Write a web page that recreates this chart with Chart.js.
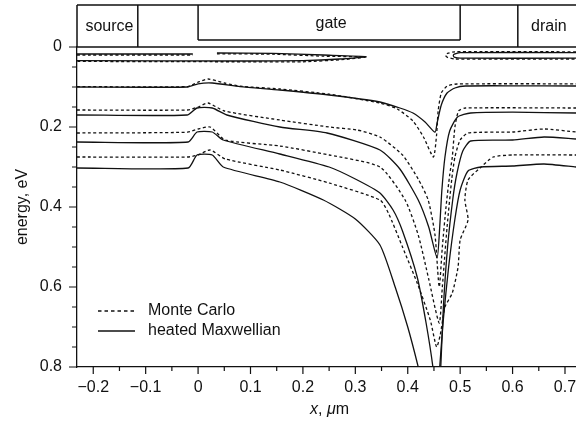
<!DOCTYPE html>
<html>
<head>
<meta charset="utf-8">
<script src="https://cdn.jsdelivr.net/npm/chart.js@4.4.1/dist/chart.umd.min.js"></script>
<style>
  html, body { margin: 0; padding: 0; background: #fff; }
  canvas { display: block; }
</style>
</head>
<body>
<canvas id="chart" width="576" height="421"></canvas>
<script>
// axis ticks
const xTicks = [-0.2, -0.1, 0, 0.1, 0.2, 0.3, 0.4, 0.5, 0.6, 0.7];
const xMinor = [-0.15, -0.05, 0.05, 0.15, 0.25, 0.35, 0.45, 0.55, 0.65];
const yTicks = [0, 0.2, 0.4, 0.6, 0.8];
const yMinor = [0.05, 0.1, 0.15, 0.25, 0.3, 0.35, 0.45, 0.5, 0.55, 0.65, 0.7, 0.75];

// device regions drawn above the plot (x in um, bottom in eV)
const regionNames = ['source', 'gate', 'drain'];
const regionStart = [-0.231, 0, 0.61];
const regionEnd = [-0.115, 0.5, 0.721];
const regionBottom = [0, -0.0175, 0];
const headerTop = -0.105;

// curves, [x um, energy eV]; null = gap
// hm* = heated Maxwellian (solid), mc* = Monte Carlo (dotted)
const hmBandLeft = [[-0.231,0.0175],[-0.01,0.0175],null,[0.036,0.015],[0.143,0.016],[0.239,0.02],[0.32,0.024],
  [0.27,0.03],[0.2,0.034],[0.1,0.035],[-0.231,0.034]];
const mcBandLeft = [[-0.231,0.02],[-0.01,0.02],null,[0.036,0.017],[0.143,0.018],[0.239,0.023],[0.32,0.025],
  [0.28,0.031],[0.2,0.037],[0.1,0.037],[-0.231,0.036]];
const hmBandRight = [[0.721,0.014],[0.5,0.014],[0.489,0.018],[0.487,0.022],[0.49,0.026],[0.5,0.028],[0.721,0.028]];
const mcBandRight = [[0.721,0.012],[0.49,0.012],[0.476,0.016],[0.472,0.021],[0.476,0.026],[0.49,0.03],[0.721,0.03]];

const hmD = [[-0.231,0.1],[-0.02,0.1],[0.0,0.092],[0.027,0.09],[0.08,0.099],[0.156,0.1075],[0.25,0.12],
  [0.347,0.1375],[0.385,0.1525],[0.41,0.165],[0.433,0.1875],[0.452,0.213],[0.456,0.19],[0.464,0.145],
  [0.475,0.115],[0.49,0.1025],[0.51,0.0975],[0.6,0.097],[0.721,0.0975]];
const mcD = [[-0.231,0.099],[-0.02,0.099],[0.0,0.088],[0.019,0.08],[0.05,0.09],[0.08,0.098],[0.156,0.105],
  [0.25,0.118],[0.347,0.14],[0.38,0.155],[0.41,0.185],[0.43,0.225],[0.449,0.275],[0.455,0.22],[0.458,0.16],
  [0.464,0.115],[0.475,0.098],[0.494,0.0925],[0.721,0.092]];

const hmE = [[-0.231,0.17],[-0.021,0.17],[-0.002,0.1525],[0.027,0.1525],[0.055,0.17],[0.156,0.2],[0.246,0.215],
  [0.347,0.2575],[0.385,0.305],[0.42,0.3825],[0.44,0.45],[0.456,0.5275],[0.461,0.45],[0.465,0.36],[0.471,0.275],
  [0.48,0.21],[0.495,0.175],[0.52,0.165],[0.6,0.163],[0.721,0.165]];
const mcE = [[-0.231,0.1575],[-0.02,0.1575],[0.0,0.15],[0.019,0.14],[0.05,0.16],[0.156,0.1825],[0.25,0.2],
  [0.303,0.2075],[0.347,0.225],[0.39,0.27],[0.42,0.33],[0.439,0.3825],[0.452,0.47],[0.46,0.6],[0.466,0.5],
  [0.473,0.4],[0.48,0.32],[0.485,0.275],[0.49,0.2],[0.497,0.16],[0.51,0.1525],[0.721,0.1525]];

const hmF = [[-0.231,0.2375],[-0.019,0.2375],[-0.002,0.2125],[0.027,0.2125],[0.048,0.2325],[0.156,0.2675],
  [0.25,0.3],[0.3,0.33],[0.347,0.365],[0.372,0.4075],[0.39,0.46],[0.418,0.575],[0.435,0.69],[0.448,0.8],
  [0.452,0.86],[0.46,0.86],[0.463,0.8],[0.468,0.65],[0.476,0.5],[0.486,0.38],[0.494,0.315],[0.505,0.26],
  [0.52,0.235],[0.6,0.2325],[0.66,0.225],[0.721,0.23]];
const mcF = [[-0.231,0.215],[-0.02,0.213],[0.0,0.205],[0.023,0.2],[0.052,0.2325],[0.156,0.2475],[0.25,0.27],
  [0.347,0.3],[0.395,0.3825],[0.42,0.47],[0.44,0.58],[0.46,0.69],[0.466,0.6],[0.475,0.45],[0.484,0.33],
  [0.49,0.275],[0.5,0.2325],[0.515,0.215],[0.6,0.2125],[0.66,0.205],[0.721,0.2125]];

const hmG = [[-0.231,0.3025],[-0.019,0.3025],[-0.002,0.27],[0.027,0.27],[0.048,0.3],[0.156,0.3375],
  [0.239,0.3825],[0.3,0.43],[0.347,0.495],[0.376,0.6],[0.4,0.7],[0.42,0.8],[0.43,0.86],[0.458,0.86],
  [0.461,0.8],[0.468,0.68],[0.478,0.55],[0.49,0.43],[0.5,0.3575],[0.515,0.31],[0.54,0.3],[0.6,0.2975],
  [0.66,0.2925],[0.721,0.3]];
const mcG = [[-0.231,0.275],[-0.02,0.275],[0.0,0.27],[0.023,0.2575],[0.052,0.28],[0.156,0.3075],[0.25,0.34],
  [0.347,0.3825],[0.363,0.415],[0.39,0.5],[0.418,0.59],[0.443,0.6825],[0.455,0.75],[0.462,0.72],[0.471,0.65],
  [0.485,0.615],[0.496,0.55],[0.5,0.4825],[0.515,0.4325],[0.509,0.3825],[0.515,0.3325],[0.538,0.3025],
  [0.563,0.275],[0.6,0.27],[0.721,0.27]];

const legendLabels = ['Monte Carlo', 'heated Maxwellian'];

const ink = '#111';
const family = "'Liberation Sans', Arial, Helvetica, sans-serif";
Chart.defaults.font.family = family;
Chart.defaults.font.size = 16;
Chart.defaults.color = ink;

const toPoints = arr => arr.map(p => p ? { x: p[0], y: p[1] } : { x: 0.013, y: null });
const fmt = v => {
  const s = String(Number(Math.abs(v).toFixed(2)));
  return v < 0 ? '\u2212' + s : s;
};

const curves = [
  [hmBandLeft, false], [mcBandLeft, true], [hmBandRight, false], [mcBandRight, true],
  [hmD, false], [mcD, true], [hmE, false], [mcE, true],
  [hmF, false], [mcF, true], [hmG, false], [mcG, true]
];

const extras = {
  id: 'extras',
  afterDraw(chart) {
    const { ctx, chartArea: a, scales: { x, y } } = chart;
    ctx.save();
    ctx.strokeStyle = ink;
    ctx.fillStyle = ink;

    // tick marks, pointing out
    ctx.lineWidth = 1.2;
    ctx.beginPath();
    xTicks.forEach(v => { const p = x.getPixelForValue(v); ctx.moveTo(p, a.bottom); ctx.lineTo(p, a.bottom + 7); });
    xMinor.forEach(v => { const p = x.getPixelForValue(v); ctx.moveTo(p, a.bottom); ctx.lineTo(p, a.bottom + 4); });
    yTicks.forEach(v => { const p = y.getPixelForValue(v); ctx.moveTo(a.left, p); ctx.lineTo(a.left - 8, p); });
    yMinor.forEach(v => { const p = y.getPixelForValue(v); ctx.moveTo(a.left, p); ctx.lineTo(a.left - 5, p); });
    ctx.stroke();

    // device header
    const top = y.getPixelForValue(headerTop);
    const base = y.getPixelForValue(0);
    ctx.lineWidth = 1.5;
    ctx.beginPath();
    ctx.moveTo(a.left, top); ctx.lineTo(a.right, top);
    ctx.moveTo(a.left, base); ctx.lineTo(a.right, base);
    ctx.font = '16px ' + family;
    ctx.textAlign = 'center';
    ctx.textBaseline = 'middle';
    regionNames.forEach((name, i) => {
      const l = x.getPixelForValue(regionStart[i]);
      const r = x.getPixelForValue(regionEnd[i]);
      const b = y.getPixelForValue(regionBottom[i]);
      ctx.moveTo(l, top); ctx.lineTo(l, b);
      if (regionEnd[i] < x.max) { ctx.moveTo(r, top); ctx.lineTo(r, b); }
      ctx.moveTo(l, b); ctx.lineTo(r, b);
      ctx.fillText(name, (l + r) / 2 + 2, (top + b) / 2 + 1);
    });
    ctx.stroke();

    // legend
    const lx = a.left + 21, ly = a.top + 264;
    ctx.lineWidth = 1.3;
    legendLabels.forEach((label, i) => {
      const yy = ly + i * 20;
      ctx.setLineDash(i === 0 ? [3.5, 3] : []);
      ctx.beginPath();
      ctx.moveTo(lx, yy); ctx.lineTo(lx + 37, yy);
      ctx.stroke();
      ctx.textAlign = 'left';
      ctx.fillText(label, lx + 50, yy);
    });
    ctx.setLineDash([]);

    // axis titles
    ctx.save();
    ctx.translate(23, (a.top + a.bottom) / 2);
    ctx.rotate(-Math.PI / 2);
    ctx.textAlign = 'center';
    ctx.fillText('energy, eV', 0, 0);
    ctx.restore();

    const parts = [['x', true], [', ', false], ['\u03bc', true], ['m', false]];
    const fontOf = it => (it ? 'italic ' : '') + '16px ' + family;
    let w = 0;
    parts.forEach(([t, it]) => { ctx.font = fontOf(it); w += ctx.measureText(t).width; });
    let px = (a.left + a.right) / 2 + 3 - w / 2;
    ctx.textAlign = 'left';
    parts.forEach(([t, it]) => {
      ctx.font = fontOf(it);
      ctx.fillText(t, px, 410);
      px += ctx.measureText(t).width;
    });
    ctx.restore();
  }
};

new Chart(document.getElementById('chart'), {
  type: 'scatter',
  data: {
    datasets: curves.map(([pts, mc]) => ({
      data: toPoints(pts),
      showLine: true,
      borderColor: ink,
      borderWidth: 1.3,
      borderDash: mc ? [3, 2.5] : [],
      pointRadius: 0,
      tension: 0.2,
      fill: false
    }))
  },
  options: {
    responsive: false,
    animation: false,
    devicePixelRatio: 1,
    layout: { padding: { top: 47, right: 0, left: 0, bottom: 0 } },
    plugins: { legend: { display: false }, tooltip: { enabled: false } },
    scales: {
      x: {
        type: 'linear', min: -0.231, max: 0.721,
        grid: { display: false, drawTicks: false },
        border: { display: true, color: ink, width: 1.3 },
        afterBuildTicks: s => { s.ticks = xTicks.map(v => ({ value: v })); },
        afterFit: s => { s.height = 54; s.paddingLeft = 0; s.paddingRight = 0; },
        ticks: { padding: 11, autoSkip: false, maxRotation: 0, callback: fmt }
      },
      y: {
        type: 'linear', min: 0, max: 0.8, reverse: true,
        grid: { display: false, drawTicks: false },
        border: { display: true, color: ink, width: 1.3 },
        afterBuildTicks: s => { s.ticks = yTicks.map(v => ({ value: v })); },
        afterFit: s => { s.width = 77; s.paddingTop = 0; s.paddingBottom = 0; },
        ticks: { padding: 15, autoSkip: false, callback: fmt }
      }
    }
  },
  plugins: [extras]
});
</script>
</body>
</html>
